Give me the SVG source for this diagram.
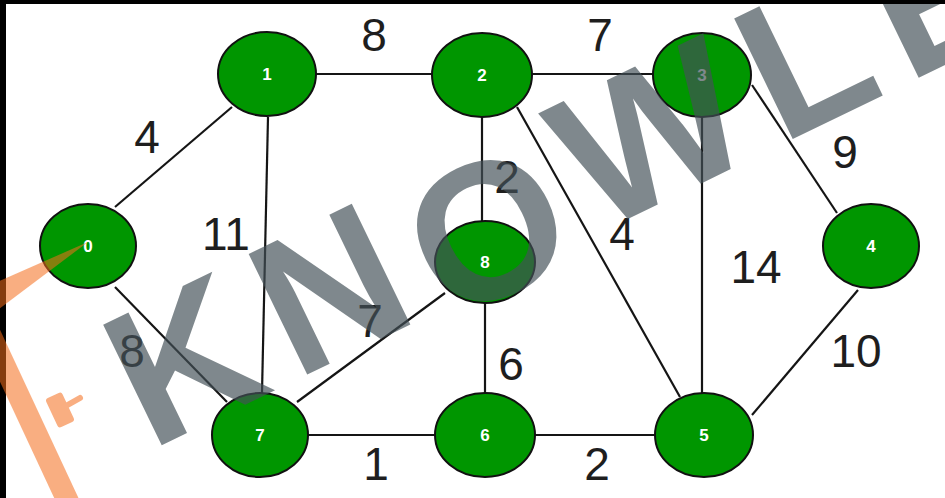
<svg xmlns="http://www.w3.org/2000/svg" width="945" height="498" viewBox="0 0 945 498">
<style>
.edge{stroke:#151515;stroke-width:2.2;fill:none}
.node{fill:#009600;stroke:#111;stroke-width:2}
.nl{fill:#ffffff;font-family:"Liberation Sans",Arial,sans-serif;font-size:17px;font-weight:bold;text-anchor:middle}
.el{fill:#1e1e1e;font-family:"Liberation Sans",Arial,sans-serif;font-size:46px;text-anchor:middle}
</style>
<rect x="0" y="0" width="945" height="498" fill="#ffffff"/>
<g id="connectors">
<line class="edge" x1="232" y1="107" x2="115" y2="207"/>
<line class="edge" x1="115" y1="287" x2="227" y2="402"/>
<line class="edge" x1="316" y1="74" x2="432" y2="74"/>
<line class="edge" x1="268" y1="117" x2="262" y2="393"/>
<line class="edge" x1="532" y1="74" x2="653" y2="74"/>
<line class="edge" x1="482" y1="117" x2="482" y2="221"/>
<line class="edge" x1="517" y1="107" x2="680" y2="397"/>
<line class="edge" x1="752" y1="85" x2="837" y2="213"/>
<line class="edge" x1="702" y1="117" x2="702" y2="393"/>
<line class="edge" x1="858" y1="290" x2="752" y2="415"/>
<line class="edge" x1="445" y1="293" x2="297" y2="402"/>
<line class="edge" x1="485" y1="303" x2="485" y2="393"/>
<line class="edge" x1="308" y1="435" x2="435" y2="435"/>
<line class="edge" x1="535" y1="435" x2="655" y2="435"/>
</g>
<g id="n0"><ellipse class="node" cx="88" cy="246" rx="48" ry="42"/><text class="nl" x="88" y="252">0</text></g>
<g id="n1"><ellipse class="node" cx="267" cy="74" rx="49" ry="42"/><text class="nl" x="267" y="80">1</text></g>
<g id="n2"><ellipse class="node" cx="482" cy="75" rx="50" ry="42"/><text class="nl" x="482" y="81">2</text></g>
<g id="n3"><ellipse class="node" cx="702" cy="75" rx="49" ry="42"/><text class="nl" x="702" y="81">3</text></g>
<g id="n4"><ellipse class="node" cx="871" cy="246" rx="48" ry="42"/><text class="nl" x="871" y="252">4</text></g>
<g id="n5"><ellipse class="node" cx="704" cy="435" rx="49" ry="42"/><text class="nl" x="704" y="441">5</text></g>
<g id="n6"><ellipse class="node" cx="485" cy="435" rx="50" ry="42"/><text class="nl" x="485" y="441">6</text></g>
<g id="n7"><ellipse class="node" cx="260" cy="435" rx="48" ry="42"/><text class="nl" x="260" y="441">7</text></g>
<g id="n8"><ellipse class="node" cx="485" cy="262" rx="50" ry="41"/><text class="nl" x="485" y="268">8</text></g>
<g id="edge-labels">
<text class="el" x="374" y="51">8</text>
<text class="el" x="600" y="51">7</text>
<text class="el" x="147" y="153">4</text>
<text class="el" x="226" y="250">11</text>
<text class="el" x="507" y="193">2</text>
<text class="el" x="622" y="250">4</text>
<text class="el" x="845" y="168">9</text>
<text class="el" x="756" y="283">14</text>
<text class="el" x="856" y="367">10</text>
<text class="el" x="132" y="367">8</text>
<text class="el" x="370" y="337">7</text>
<text class="el" x="511" y="380">6</text>
<text class="el" x="376" y="480">1</text>
<text class="el" x="597" y="480">2</text>
</g>
<g id="watermark">
<text transform="translate(150,451) rotate(-25.9)" fill="#445158" opacity="0.68" font-family="Liberation Sans,Arial,sans-serif" font-weight="bold" font-size="195" letter-spacing="21">KN<tspan dy="16">O</tspan><tspan dy="-16">WLE</tspan></text>
</g>
<rect x="0" y="0" width="945" height="4" fill="#000"/>
<rect x="0" y="0" width="6" height="498" fill="#000"/>
<g id="logo" fill="#f56d1b" opacity="0.55">
<polygon points="-5,283 88,242 -5,312"/>
<rect transform="translate(-12,330) rotate(-25)" x="-11" y="0" width="22" height="220"/>
<rect transform="translate(60,410) rotate(-25)" x="-9" y="-16" width="18" height="32" rx="3"/>
<line x1="64" y1="407" x2="80" y2="398" stroke="#f56d1b" stroke-width="6" stroke-linecap="round"/>
</g>
</svg>
